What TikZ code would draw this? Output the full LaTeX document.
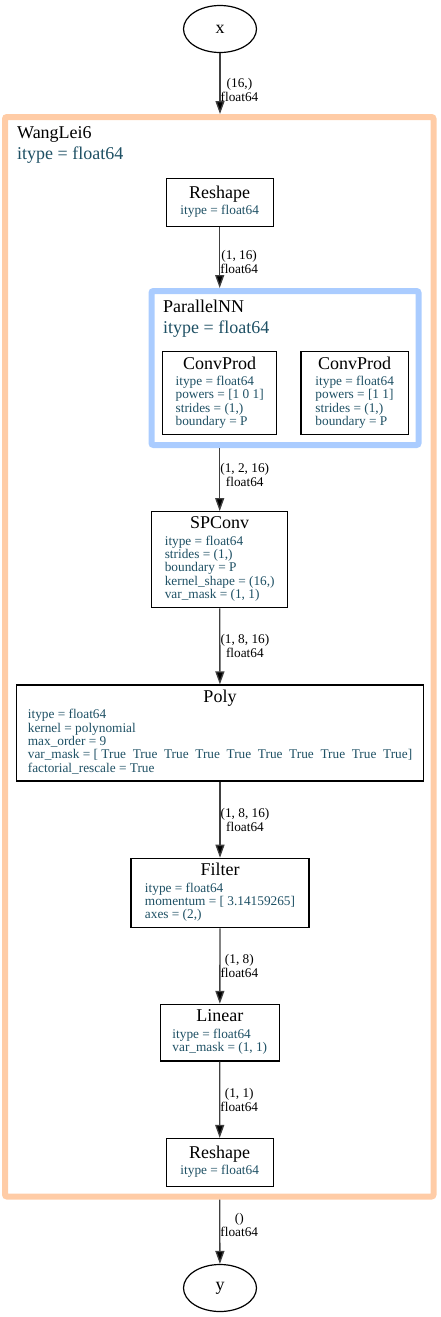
\documentclass[tikz,border=0pt]{standalone}
\usepackage{fontspec}
\setmainfont{Liberation Serif}
\usetikzlibrary{arrows.meta,shapes.geometric}
\definecolor{infoteal}{RGB}{30,80,100}
\definecolor{peach}{RGB}{255,204,166}
\definecolor{skyblue}{RGB}{170,204,255}
\newcommand{\optitle}[1]{{\fontsize{18}{20}\selectfont #1}}
\newcommand{\opinfo}[1]{{\color{infoteal}\begin{tabular}[t]{@{}l@{}}#1\end{tabular}}}

\begin{document}
\begin{tikzpicture}[x=1pt,y=-1pt,
    font=\fontsize{13.3}{13.3}\selectfont,
    var/.style={ellipse,draw,line width=1.2pt,minimum width=73,minimum height=47,
      font=\fontsize{18}{20}\selectfont},
    op/.style={rectangle,draw,line width=1.2pt,align=center,inner sep=0pt},
    cluster/.style={rectangle,draw,line width=6pt,rounded corners=2pt,inner sep=0pt},
    ctitle/.style={anchor=north west,align=left,inner sep=0pt,
      font=\fontsize{18}{21}\selectfont},
    flow/.style={draw=black!75,line width=1.3pt,-{Triangle[length=13pt,width=9pt,fill=black]}},
    shapelabel/.style={anchor=west,align=center,inner sep=0pt,font=\fontsize{13.3}{14}\selectfont}]

    \useasboundingbox (0,0) rectangle (440,1317);

    % Clusters
    \node[cluster,draw=peach,minimum width=428.5,minimum height=1079.5] (wanglei) at (219.25,656.75) {};
    \node[ctitle] (wangleititle) at ([shift={(15,12.5)}]wanglei.north west)
      {WangLei6\\ {\color{infoteal}itype = float64}};
    \node[cluster,draw=skyblue,minimum width=267,minimum height=154] (parallel) at (285,368) {};
    \node[ctitle] (paralleltitle) at ([shift={(14.5,11.5)}]parallel.north west)
      {ParallelNN\\ {\color{infoteal}itype = float64}};

    % Inputs and outputs
    \node[var] (x) at (220,29) {x};
    \node[var] (y) at (220,1288) {y};

    % Operations
    \node[op,minimum width=107,minimum height=48] (reshapein) at (219.7,202.5)
      {\optitle{Reshape}\\[3pt]\opinfo{itype = float64}};
    \node[op,minimum width=114,minimum height=82.6] (convprodA) at (219.7,393)
      {\optitle{ConvProd}\\[3pt]\opinfo{itype = float64\\ powers = [1 0 1]\\ strides = (1,)\\ boundary = P}};
    \node[op,minimum width=107.3,minimum height=82.6] (convprodB) at (354.7,393)
      {\optitle{ConvProd}\\[3pt]\opinfo{itype = float64\\ powers = [1 1]\\ strides = (1,)\\ boundary = P}};
    \node[op,minimum width=136,minimum height=96] (spconv) at (219.7,559.7)
      {\optitle{SPConv}\\[3pt]\opinfo{itype = float64\\ strides = (1,)\\ boundary = P\\ kernel\_shape = (16,)\\ var\_mask = (1, 1)}};
    \node[op,minimum width=406.6,minimum height=96] (poly) at (220,733)
      {\optitle{Poly}\\[3pt]\opinfo{itype = float64\\ kernel = polynomial\\ max\_order = 9\\
        var\_mask = [ True\ \ True\ \ True\ \ True\ \ True\ \ True\ \ True\ \ True\ \ True\ \ True]\\ factorial\_rescale = True}};
    \node[op,minimum width=178,minimum height=69.4] (filter) at (220,893)
      {\optitle{Filter}\\[3pt]\opinfo{itype = float64\\ momentum = [ 3.14159265]\\ axes = (2,)}};
    \node[op,minimum width=119,minimum height=56.7] (linear) at (219.8,1032.7)
      {\optitle{Linear}\\[3pt]\opinfo{itype = float64\\ var\_mask = (1, 1)}};
    \node[op,minimum width=107,minimum height=48] (reshapeout) at (219.7,1162.5)
      {\optitle{Reshape}\\[3pt]\opinfo{itype = float64}};

    % Edges with shape and dtype
    \draw[flow] (x) -- node[shapelabel,pos=0.6] {(16,)\\ float64} (x |- wanglei.north);
    \draw[flow] (reshapein) -- node[shapelabel,pos=0.58] {(1, 16)\\ float64} (reshapein |- parallel.north);
    \draw[flow] (spconv |- parallel.south) -- node[shapelabel,pos=0.42] {(1, 2, 16)\\ float64} (spconv);
    \foreach \u/\v/\s in {spconv/poly/{(1, 8, 16)},poly/filter/{(1, 8, 16)},
        filter/linear/{(1, 8)},linear/reshapeout/{(1, 1)}} {
      \draw[flow] (\u) -- node[shapelabel,midway] {\s\\ float64} (\v);
    }
    \draw[flow] (reshapeout |- wanglei.south) -- node[shapelabel,pos=0.4] {()\\ float64} (y);

\end{tikzpicture}
\end{document}
